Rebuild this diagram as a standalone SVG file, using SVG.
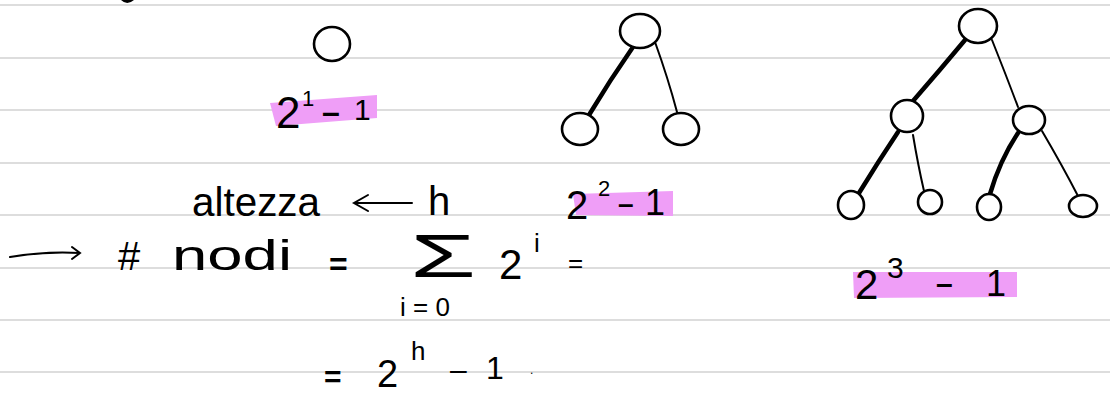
<svg xmlns="http://www.w3.org/2000/svg" width="1110" height="395" viewBox="0 0 1110 395">
<style>
.rule{stroke:#d2d2d2;stroke-width:1.6}
.nd{fill:#fff;stroke:#000;stroke-width:2.6}
.thick{stroke:#000;stroke-width:4.5;fill:none;stroke-linecap:round}
.thin{stroke:#000;stroke-width:2;fill:none;stroke-linecap:round}
.hl{fill:#ef9ef7}
.t{font-family:"Liberation Sans","DejaVu Sans",sans-serif;fill:#000}
</style>
<rect width="1110" height="395" fill="#fff"/>
<g id="rules">
<line class="rule" x1="0" y1="5" x2="1110" y2="5"/>
<line class="rule" x1="0" y1="58" x2="1110" y2="58"/>
<line class="rule" x1="0" y1="110" x2="1110" y2="110"/>
<line class="rule" x1="0" y1="163" x2="1110" y2="163"/>
<line class="rule" x1="0" y1="215" x2="1110" y2="215"/>
<line class="rule" x1="0" y1="268" x2="1110" y2="268"/>
<line class="rule" x1="0" y1="320" x2="1110" y2="320"/>
<line class="rule" x1="0" y1="372" x2="1110" y2="372"/>
</g>
<path d="M121,0 Q127,6 134,0 Z" fill="#000"/>
<g id="highlights">
<polygon class="hl" points="270,103 377,95 377,118 276,126"/>
<polygon class="hl" points="573,194 673,191 673,216 576,215"/>
<polygon class="hl" points="853,272 1017,272 1017,297 854,298"/>
</g>
<g id="connectors">
<path class="thick" d="M633,47 Q610,80 589,115"/>
<path class="thin" d="M655,42 Q668,78 677,112"/>
<path class="thick" d="M965,40 Q940,70 913,101"/>
<path class="thin" d="M992,40 Q1006,75 1018,107"/>
<path class="thick" d="M898,132 Q878,162 859,193"/>
<path class="thin" d="M913,135 Q918,165 924,191"/>
<path class="thick" d="M1018,133 Q1000,160 990,194"/>
<path class="thin" d="M1042,131 Q1062,165 1078,196"/>
</g>
<g id="tree1-root"><ellipse class="nd" cx="332" cy="44" rx="18" ry="17"/></g>
<g id="tree2-root"><ellipse class="nd" cx="640" cy="31" rx="20" ry="17"/></g>
<g id="tree2-left"><ellipse class="nd" cx="580" cy="129" rx="18" ry="16"/></g>
<g id="tree2-right"><ellipse class="nd" cx="681" cy="129" rx="18" ry="16"/></g>
<g id="tree3-root"><ellipse class="nd" cx="978" cy="26" rx="19" ry="17"/></g>
<g id="tree3-l"><ellipse class="nd" cx="907" cy="116" rx="16" ry="16"/></g>
<g id="tree3-r"><ellipse class="nd" cx="1029" cy="120" rx="16" ry="14"/></g>
<g id="tree3-ll"><ellipse class="nd" cx="851" cy="205" rx="13" ry="14"/></g>
<g id="tree3-lr"><ellipse class="nd" cx="930" cy="202" rx="12" ry="12"/></g>
<g id="tree3-rl"><ellipse class="nd" cx="989" cy="207" rx="12" ry="13"/></g>
<g id="tree3-rr"><ellipse class="nd" cx="1083" cy="206" rx="14" ry="11"/></g>
<g id="label1">
<text class="t" x="276" y="128" font-size="44">2</text>
<text class="t" x="302" y="106" font-size="22">1</text>
<text class="t" x="322" y="123" font-size="32" font-weight="bold">–</text>
<text class="t" x="354" y="120" font-size="30">1</text>
</g>
<g id="label2">
<text class="t" x="566" y="219" font-size="40">2</text>
<text class="t" x="598" y="196" font-size="22">2</text>
<text class="t" x="618" y="213" font-size="28" font-weight="bold">–</text>
<text class="t" x="645" y="215" font-size="36">1</text>
</g>
<g id="label3">
<text class="t" x="855" y="299" font-size="42">2</text>
<text class="t" x="887" y="278" font-size="30">3</text>
<text class="t" x="936" y="294" font-size="30" font-weight="bold">–</text>
<text class="t" x="986" y="296" font-size="36">1</text>
</g>
<g id="formula">
<text class="t" x="192" y="216" font-size="40" textLength="128" lengthAdjust="spacingAndGlyphs">altezza</text>
<path class="thin" d="M412,203 L356,203 M368,195 L354,203 L368,211" stroke-width="3"/>
<text class="t" x="428" y="215" font-size="40">h</text>
<path class="thin" d="M10,257 Q45,251 80,253 M72,247 L80,253 L72,259" stroke-width="3"/>
<text class="t" x="118" y="270" font-size="40">#</text>
<text class="t" x="172" y="270" font-size="42" textLength="120" lengthAdjust="spacingAndGlyphs">nodi</text>
<text class="t" x="329" y="275" font-size="32" font-weight="bold">=</text>
<text class="t" x="410" y="277" font-size="62" textLength="66" lengthAdjust="spacingAndGlyphs">Σ</text>
<text class="t" x="400" y="316" font-size="26">i = 0</text>
<text class="t" x="499" y="279" font-size="42">2</text>
<text class="t" x="534" y="252" font-size="26">i</text>
<text class="t" x="568" y="272" font-size="26">=</text>
<text class="t" x="324" y="387" font-size="30" font-weight="bold">=</text>
<text class="t" x="377" y="387" font-size="38">2</text>
<text class="t" x="411" y="360" font-size="26">h</text>
<text class="t" x="450" y="380" font-size="30">–</text>
<text class="t" x="486" y="379" font-size="32">1</text>
<text class="t" x="530" y="374" font-size="12">.</text>
</g>
</svg>
